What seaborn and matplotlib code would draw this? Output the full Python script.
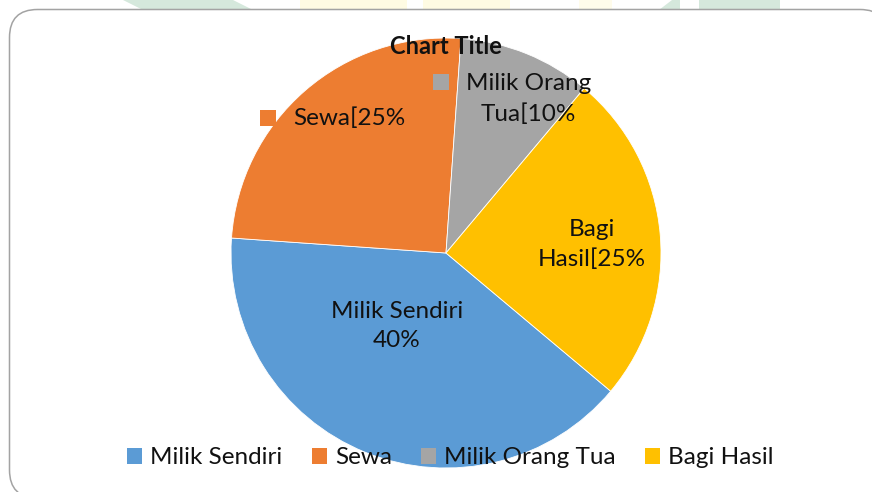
import matplotlib
matplotlib.use("Agg")
import matplotlib.pyplot as plt
import seaborn as sns
from matplotlib.patches import FancyBboxPatch, Polygon, Patch
from matplotlib.transforms import IdentityTransform

# ---- data ----
categories = ["Milik Sendiri", "Sewa", "Milik Orang Tua", "Bagi Hasil"]
values = [40, 25, 10, 25]
label_texts = ["Milik Sendiri\n40%", "Sewa[25%", "Milik Orang\nTua[10%", "Bagi\nHasil[25%"]
colors = ["#5B9BD5", "#ED7D31", "#A5A5A5", "#FFC000"]
title = "Chart Title"

sns.set_theme(style="white")
plt.rcParams["font.family"] = ["Lato", "DejaVu Sans"]

W, H = 872, 492
DPI = 100
fig = plt.figure(figsize=(W / DPI, H / DPI), dpi=DPI)
fig.patch.set_facecolor("white")

# faint watermark strip at top (outside chart box)
def px_poly(pts, color):
    p = Polygon([(x, H - y) for x, y in pts], closed=True, transform=IdentityTransform(),
                facecolor=color, edgecolor="none", zorder=0.5)
    fig.patches.append(p)

px_poly([(123, 0), (233, 0), (253, 10), (143, 10)], "#D5E8DC")
px_poly([(300, 0), (407, 0), (407, 10), (300, 10)], "#FFFBE3")
px_poly([(423, 0), (510, 0), (510, 10), (423, 10)], "#FFFBE3")
px_poly([(579, 0), (612, 0), (612, 10), (579, 10)], "#FFFCEB")
px_poly([(672, 0), (680, 0), (680, 10), (659, 10)], "#D5E8DC")
px_poly([(699, 0), (780, 0), (780, 10), (699, 10)], "#D5E8DC")

# chart box with rounded corners (pixel coordinates)
box = FancyBboxPatch((9.5, H - 498), 888 - 9.5, 498 - 9.5,
                     boxstyle="round,pad=0,rounding_size=28",
                     transform=IdentityTransform(), facecolor="white",
                     edgecolor="#A3A3A3", linewidth=1.1, zorder=1)
fig.patches.append(box)

# pie axes: center (446,253), radius 215 px
cx, cy, r = 446, 253, 215
ax = fig.add_axes([(cx - r) / W, (H - cy - r) / H, 2 * r / W, 2 * r / H])
ax.set_zorder(2)
ax.patch.set_alpha(0)
wedges, _ = ax.pie(values, colors=colors, startangle=-40, counterclock=False,
                   wedgeprops=dict(edgecolor="white", linewidth=0.6))
ax.set_xlim(-1, 1)
ax.set_ylim(-1, 1)
ax.set_aspect("equal")
ax.axis("off")

FS = 17.5
# data labels (positions in pie radius units)
label_pos = [(-0.228, -0.340), (-0.449, 0.628), (0.383, 0.716), (0.679, 0.040)]
for txt, (x, y) in zip(label_texts, label_pos):
    ax.text(x, y, txt, ha="center", va="center", fontsize=FS, color="#111111",
            linespacing=1.5, zorder=5)

# legend-key squares inside some data labels
key_pos = [(1, (-0.830, 0.630)), (2, (-0.023, 0.795))]
for idx, (x, y) in key_pos:
    ax.scatter([x], [y], marker="s", s=125, color=colors[idx], linewidths=0, zorder=5)

# title
fig.text(cx / W, 1 - 47 / H, title, ha="center", va="center", fontsize=17,
         fontweight="bold", color="#111111", zorder=6)

# legend
handles = [Patch(facecolor=c, edgecolor="none", label=n) for c, n in zip(colors, categories)]
leg = fig.legend(handles=handles, loc="center", ncol=4, frameon=False,
                 bbox_to_anchor=(450.5 / W, 1 - 458 / H), fontsize=FS,
                 handlelength=0.62, handleheight=0.62, handletextpad=0.33,
                 columnspacing=1.2, borderaxespad=0, borderpad=0)
leg.set_zorder(6)
for t in leg.get_texts():
    t.set_color("#111111")

fig.savefig("out.png", dpi=DPI)
